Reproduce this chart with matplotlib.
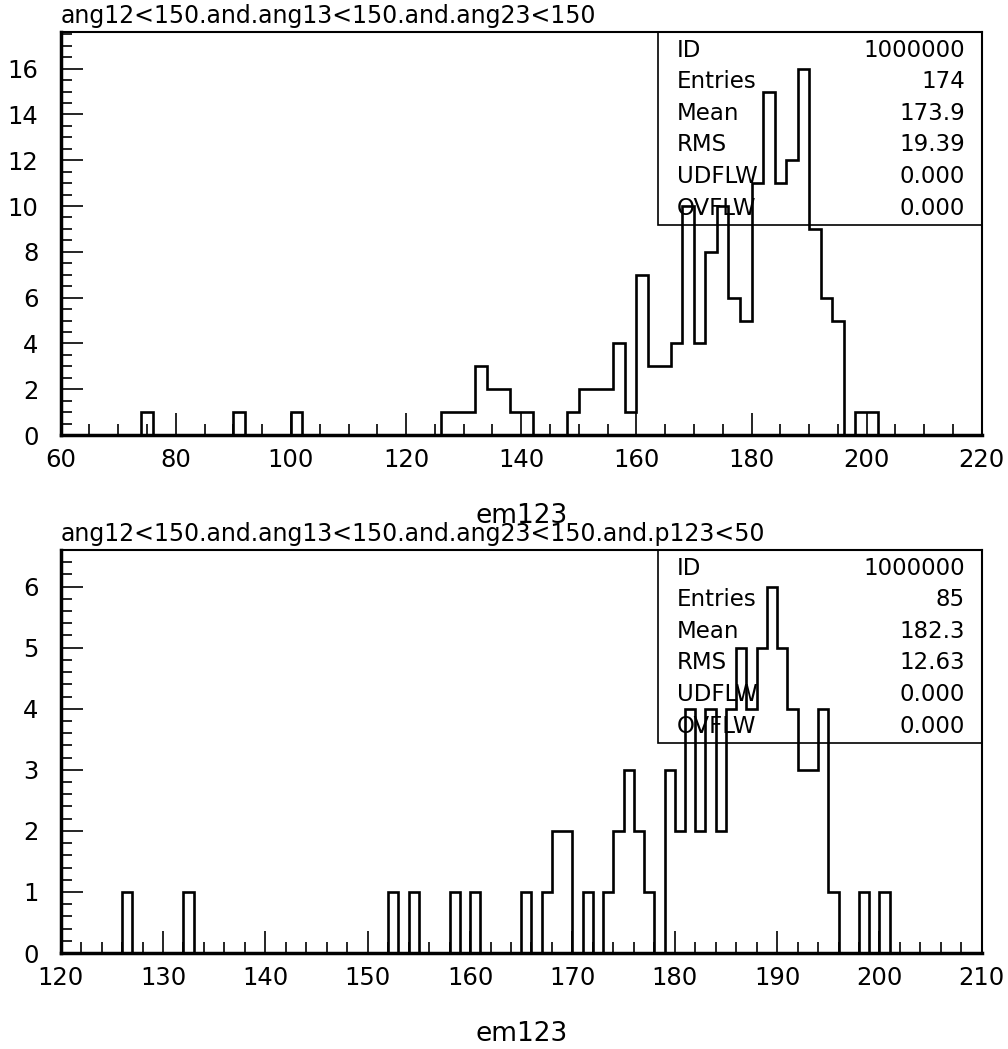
import numpy as np
import matplotlib.pyplot as plt
from matplotlib.patches import Rectangle
from matplotlib.ticker import MultipleLocator

plt.rcParams['font.family'] = ['DejaVu Sans']

# upper histogram: em123, 2-unit bins from 60 to 220
top_title = 'ang12<150.and.ang13<150.and.ang23<150'
top_lo = [74, 90, 100, 126, 128, 130, 132, 134, 136, 138, 140, 148, 150, 152,
          154, 156, 158, 160, 162, 164, 166, 168, 170, 172, 174, 176, 178, 180,
          182, 184, 186, 188, 190, 192, 194, 198, 200]
top_n = [1, 1, 1, 1, 1, 1, 3, 2, 2, 1, 1, 1, 2, 2,
         2, 4, 1, 7, 3, 3, 4, 10, 4, 8, 10, 6, 5, 11,
         15, 11, 12, 16, 9, 6, 5, 1, 1]
top_stats = ['1000000', '174', '173.9', '19.39', '0.000', '0.000']

# lower histogram: em123 with p123 cut, 1-unit bins from 120 to 210
bot_title = 'ang12<150.and.ang13<150.and.ang23<150.and.p123<50'
bot_lo = [126, 132, 152, 154, 158, 160, 165, 167, 168, 169, 171, 173, 174, 175,
          176, 177, 179, 180, 181, 182, 183, 184, 185, 186, 187, 188, 189, 190,
          191, 192, 193, 194, 195, 198, 200]
bot_n = [1, 1, 1, 1, 1, 1, 1, 1, 2, 2, 1, 1, 2, 3,
         2, 1, 3, 2, 4, 2, 4, 2, 4, 5, 4, 5, 6, 5,
         4, 3, 3, 4, 1, 1, 1]
bot_stats = ['1000000', '85', '182.3', '12.63', '0.000', '0.000']

stat_names = ['ID', 'Entries', 'Mean', 'RMS', 'UDFLW', 'OVFLW']

fig = plt.figure(figsize=(10.08, 10.49), dpi=100)
ax1 = fig.add_axes([0.0602, 0.5853, 0.9138, 0.3842])
ax2 = fig.add_axes([0.0602, 0.0915, 0.9138, 0.3842])


def draw_hist(ax, lo, n, edges, ymax, title, stats, xmaj, xmin, ymaj, ymin):
    width = edges[1] - edges[0]
    counts, _ = np.histogram(np.array(lo) + width / 2, bins=edges, weights=n)
    ax.stairs(counts, edges, color='black', linewidth=1.9)
    ax.set_xlim(edges[0], edges[-1])
    ax.set_ylim(0, ymax)

    # ticks inside, PAW style
    ax.xaxis.set_major_locator(MultipleLocator(xmaj))
    ax.xaxis.set_minor_locator(MultipleLocator(xmin))
    ax.yaxis.set_major_locator(MultipleLocator(ymaj))
    ax.yaxis.set_minor_locator(MultipleLocator(ymin))
    ax.tick_params(which='major', direction='in', length=16, width=1.2,
                   labelsize=17.5)
    ax.tick_params(which='minor', direction='in', length=8, width=1.2)
    ax.tick_params(axis='x', pad=9)
    ax.tick_params(axis='y', pad=16)
    for side in ['bottom', 'left']:
        ax.spines[side].set_linewidth(2.5)
    for side in ['top', 'right']:
        ax.spines[side].set_linewidth(1.5)

    # title and axis name
    ax.text(0, 1.01, title, transform=ax.transAxes, ha='left', va='bottom',
            fontsize=17)
    ax.text(0.5, -0.2, 'em123', transform=ax.transAxes, ha='center',
            va='center', fontsize=19)

    # statistics box
    ax.add_patch(Rectangle((0.649, 0.521), 0.351, 0.479, transform=ax.transAxes,
                           fill=False, edgecolor='black', linewidth=1.2,
                           clip_on=False))
    for i in range(len(stat_names)):
        y = 0.955 - i * 0.0784
        ax.text(0.669, y, stat_names[i], transform=ax.transAxes, ha='left',
                va='center', fontsize=16.5)
        ax.text(0.9815, y, stats[i], transform=ax.transAxes, ha='right',
                va='center', fontsize=16.5)


draw_hist(ax1, top_lo, top_n, np.arange(60, 222, 2), 17.6, top_title,
          top_stats, 20, 5, 2, 0.5)
draw_hist(ax2, bot_lo, bot_n, np.arange(120, 211, 1), 6.6, bot_title,
          bot_stats, 10, 2, 1, 0.2)

fig.savefig('out.png', dpi=100)
